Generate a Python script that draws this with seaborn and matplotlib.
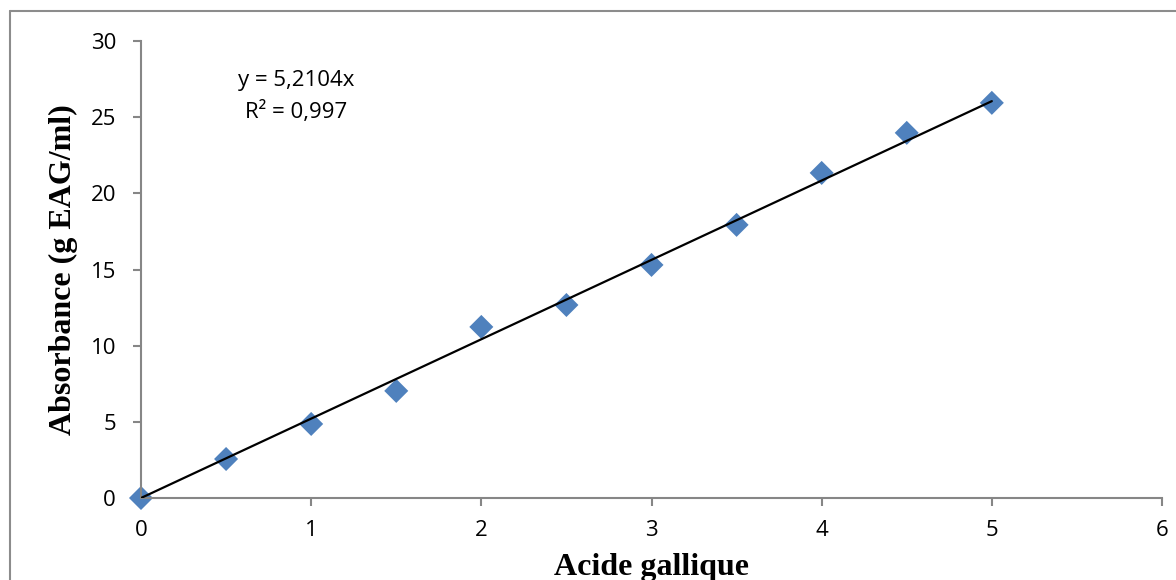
import matplotlib
matplotlib.use("Agg")
import matplotlib.pyplot as plt
import seaborn as sns
import numpy as np
import pandas as pd
from matplotlib.lines import Line2D

# Data
concentration = [0, 0.5, 1, 1.5, 2, 2.5, 3, 3.5, 4, 4.5, 5]
absorbance = [0, 2.56, 4.86, 7.03, 11.23, 12.67, 15.3, 17.93, 21.34, 23.97, 25.94]
slope = 5.2104
r2_text = "0,997"
x_ticks = [0, 1, 2, 3, 4, 5, 6]
y_ticks = [0, 5, 10, 15, 20, 25, 30]
x_label = "Acide gallique"
y_label = "Absorbance (g EAG/ml)"

sns.set_style("white")
plt.rcParams['font.family'] = ['Open Sans', 'DejaVu Sans']

fig = plt.figure(figsize=(11.76, 5.8), dpi=100)
ax = fig.add_axes([141/1176, 1 - 498/580, (1162 - 141)/1176, (498 - 41)/580])

df = pd.DataFrame({"x": concentration, "y": absorbance})
trend_x = [min(concentration), max(concentration)]
trend = pd.DataFrame({"x": trend_x, "y": [slope * v for v in trend_x]})

sns.lineplot(data=trend, x="x", y="y", ax=ax, color="black", linewidth=1.6, zorder=3)
sns.scatterplot(data=df, x="x", y="y", ax=ax, marker="D", s=150, color="#4F81BD",
                edgecolor="none", zorder=2, clip_on=False)

ax.set_xlim(0, 6)
ax.set_ylim(0, 30)
ax.set_xticks(x_ticks)
ax.set_yticks(y_ticks)
ax.set_xticklabels([str(t) for t in x_ticks])
ax.set_yticklabels([str(t) for t in y_ticks])

spine_color = "#868686"
for s in ["top", "right"]:
    ax.spines[s].set_visible(False)
for s in ["left", "bottom"]:
    ax.spines[s].set_color(spine_color)
    ax.spines[s].set_linewidth(1.5)

ax.tick_params(axis="both", which="major", direction="out", length=6, width=1.5,
               color=spine_color, labelsize=16, labelcolor="black")
ax.tick_params(axis="x", pad=10, bottom=True)
ax.tick_params(axis="y", pad=12, left=True)

ax.set_xlabel(x_label, fontsize=23, fontweight="bold", family="Liberation Serif", color="black")
ax.set_ylabel(y_label, fontsize=23, fontweight="bold", family="Liberation Serif", color="black")
ax.xaxis.set_label_coords(0.5, -0.12)
ax.yaxis.set_label_coords(-0.062, 0.5)

ax.text(0.91, 26.35, f"y = {str(slope).replace('.', ',')}x\nR² = {r2_text}",
        ha="center", va="center", fontsize=16, linespacing=1.55, color="black")

# Outer chart frame (gray)
fig.add_artist(Line2D([10/1176, 1.01], [1 - 11/580, 1 - 11/580], transform=fig.transFigure,
                      color="#8c8c8c", linewidth=1.5))
fig.add_artist(Line2D([10/1176, 10/1176], [-0.01, 1 - 11/580], transform=fig.transFigure,
                      color="#8c8c8c", linewidth=1.5))

fig.savefig("out.png", dpi=100)
